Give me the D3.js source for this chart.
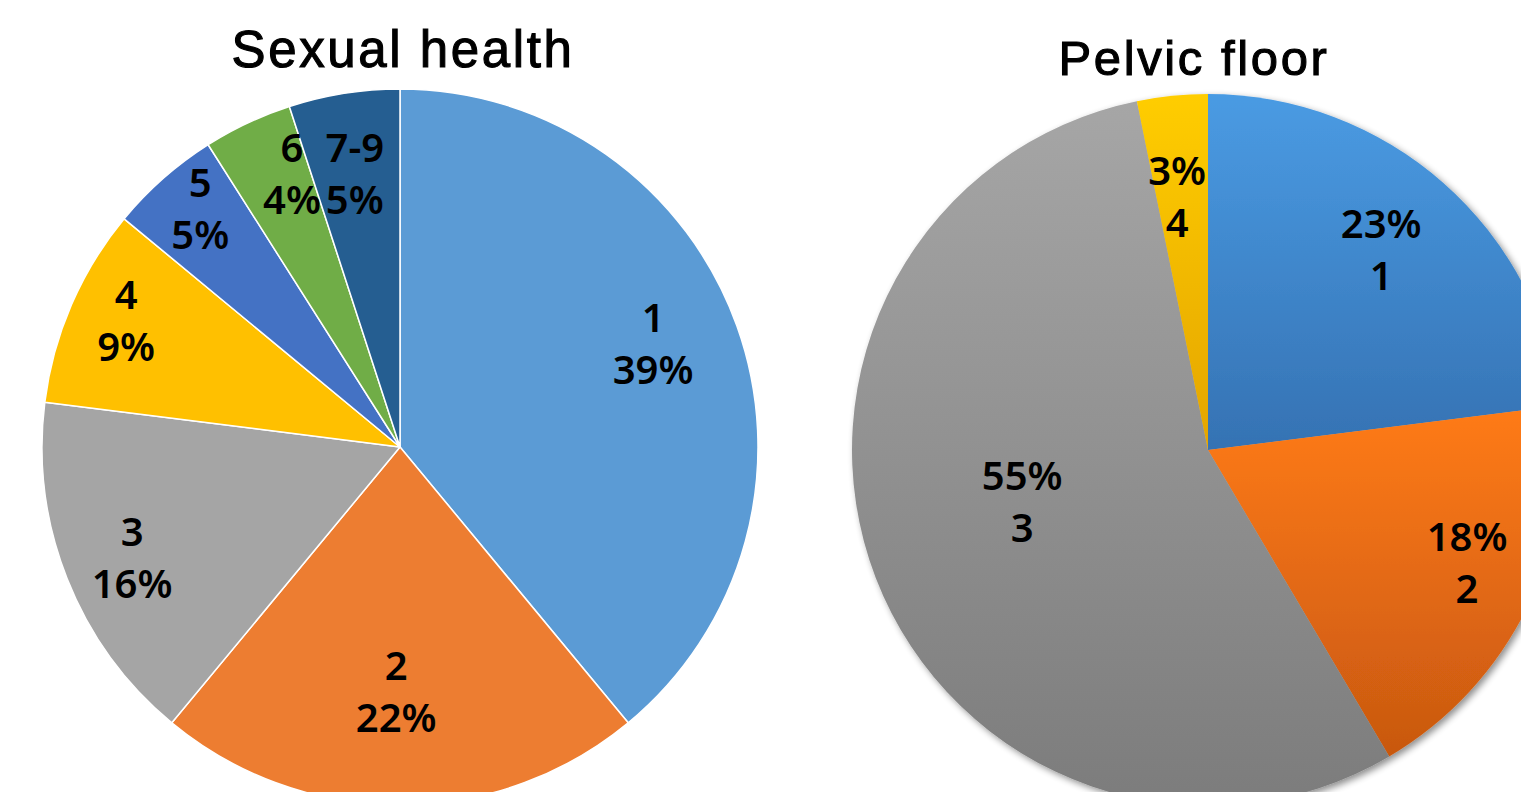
<!DOCTYPE html>
<html><head><meta charset="utf-8">
<script src="https://cdn.jsdelivr.net/npm/d3@7"></script>
<style>html,body{margin:0;padding:0;background:#fff;overflow:hidden}</style>
</head><body>
<svg id="c" width="1521" height="792"></svg>
<script>
// ---- data ----
const shCategories = ["1","2","3","4","5","6","7-9"];
const shValues = [39,22,16,9,5,4,5];
const shLabels = ["39%","22%","16%","9%","5%","4%","5%"];
const pfCategories = ["1","2","3","4"];
const pfValues = [23,18.5,55.3,3.2];
const pfLabels = ["23%","18%","55%","3%"];

// ---- styles / layout ----
const shColors = ["#5b9bd5","#ed7d31","#a5a5a5","#ffc000","#4472c4","#70ad47","#255e91"];
const shLabelR = [0.763,0.684,0.81,0.842,0.868,0.82,0.773];
const shLabelDA = [-2.3,0.9,-0.9,1.3,1.4,3.6,-0.4];
const pfTop = ["#4a9be3","#ff7b17","#a6a6a6","#ffcd00"];
const pfBottom = ["#3572b3","#c85810","#7c7c7c","#e4a500"];
const pfLabelR = [0.743,0.794,0.542,0.716];
const pfLabelDA = [-0.5,-2.5,5.5,-1.2];

const svg = d3.select("#c");
const defs = svg.append("defs");
const f = defs.append("filter").attr("id","sh").attr("x","-10%").attr("y","-10%").attr("width","120%").attr("height","120%");
f.append("feGaussianBlur").attr("in","SourceAlpha").attr("stdDeviation",3.5).attr("result","b");
f.append("feOffset").attr("in","b").attr("dx",3).attr("dy",3).attr("result","o");
f.append("feComponentTransfer").attr("in","o").attr("result","o2").append("feFuncA").attr("type","linear").attr("slope",0.45);
const m = f.append("feMerge"); m.append("feMergeNode").attr("in","o2"); m.append("feMergeNode").attr("in","SourceGraphic");

pfTop.forEach((c,i)=>{
  const g = defs.append("linearGradient").attr("id","g"+i).attr("x1",0).attr("y1",0).attr("x2",0).attr("y2",1);
  g.append("stop").attr("offset","0%").attr("stop-color",c);
  g.append("stop").attr("offset","100%").attr("stop-color",pfBottom[i]);
});

function drawPie(cx, cy, r, cats, vals, labs, fill, labelR, labelDA, stroke, catFirst, useShadow){
  const pie = d3.pie().sort(null).value(d=>d)(vals);
  const arc = d3.arc().innerRadius(0).outerRadius(r);
  const g = svg.append("g").attr("transform",`translate(${cx},${cy})`);
  const sg = g.append("g");
  if(useShadow) sg.attr("filter","url(#sh)");
  sg.selectAll("path").data(pie).join("path")
    .attr("d",arc)
    .attr("fill",(d,i)=>fill(i))
    .attr("stroke",stroke?"#fff":"none")
    .attr("stroke-width",stroke?1.5:0)
    .attr("stroke-linejoin","round");
  pie.forEach((d,i)=>{
    const a = (d.startAngle+d.endAngle)/2 + labelDA[i]*Math.PI/180;
    const rr = r*labelR[i];
    const x = Math.sin(a)*rr, y = -Math.cos(a)*rr;
    const t = g.append("text").attr("x",x).attr("y",y)
      .attr("text-anchor","middle")
      .attr("font-family","'Noto Sans', 'Open Sans', sans-serif")
      .attr("font-size",40).attr("font-weight",600).attr("fill","#000");
    const l1 = catFirst ? cats[i] : labs[i];
    const l2 = catFirst ? labs[i] : cats[i];
    t.append("tspan").attr("x",x).attr("dy",-12).text(l1);
    t.append("tspan").attr("x",x).attr("dy",52).text(l2);
  });
}

drawPie(400,447,358, shCategories, shValues, shLabels, i=>shColors[i], shLabelR, shLabelDA, true, true, false);
drawPie(1208,450,356, pfCategories, pfValues, pfLabels, i=>`url(#g${i})`, pfLabelR, pfLabelDA, false, false, true);

svg.append("text").attr("x",403).attr("y",67).attr("text-anchor","middle")
  .attr("font-family","'Liberation Sans', Arial, sans-serif").attr("font-size",51)
  .attr("letter-spacing",2.6).attr("stroke","#000").attr("stroke-width",1.1)
  .text("Sexual health");
svg.append("text").attr("x",1194).attr("y",75).attr("text-anchor","middle")
  .attr("font-family","'Liberation Sans', Arial, sans-serif").attr("font-size",49)
  .attr("letter-spacing",2.6).attr("stroke","#000").attr("stroke-width",1.1)
  .text("Pelvic floor");
</script>
</body></html>
